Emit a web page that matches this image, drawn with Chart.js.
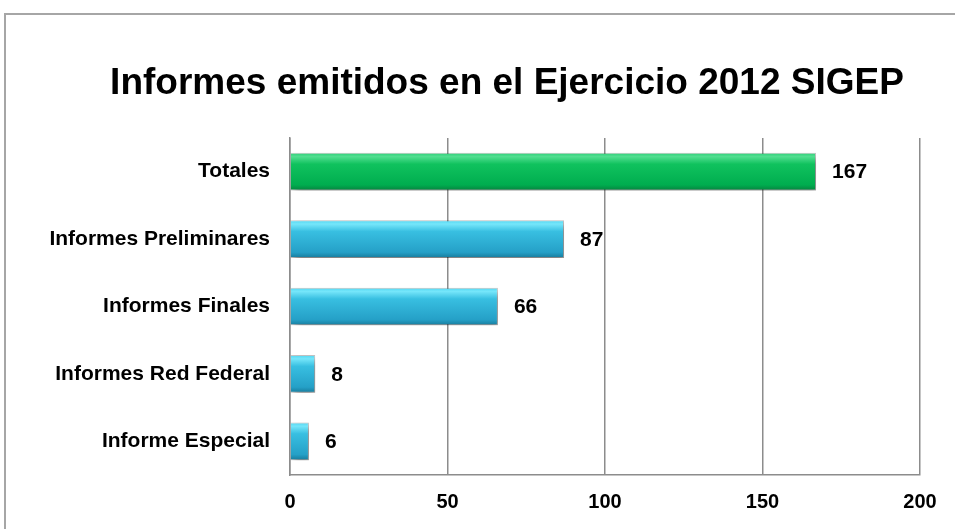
<!DOCTYPE html>
<html>
<head>
<meta charset="utf-8">
<script src="https://cdn.jsdelivr.net/npm/chart.js@4.4.1/dist/chart.umd.min.js"></script>
<style>
  html, body { margin: 0; padding: 0; background: #ffffff; }
  #wrap { position: relative; width: 955px; height: 529px; overflow: hidden; }
  #frame { position: absolute; left: 4px; top: 13px; width: 1000px; height: 1000px;
           border: 2px solid #a6a6a6; box-sizing: border-box; pointer-events: none; }
  canvas { position: absolute; left: 0; top: 0; }
</style>
</head>
<body>
<div id="wrap">
  <canvas id="c" width="955" height="529"></canvas>
  <div id="frame"></div>
</div>
<script>
const titleText = 'Informes emitidos en el Ejercicio 2012 SIGEP';
const categories = ['Totales', 'Informes Preliminares', 'Informes Finales', 'Informes Red Federal', 'Informe Especial'];
const values = [167, 87, 66, 8, 6];
const barKinds = ['green', 'blue', 'blue', 'blue', 'blue'];
const xTicks = [0, 50, 100, 150, 200];

const FONT = "'Liberation Sans', Arial, Helvetica, sans-serif";
const BAR_PCT = 0.56;

function barFill(ctx) {
  const chart = ctx.chart;
  const ys = chart.scales.y;
  const area = chart.chartArea;
  if (!ys || !area || ctx.dataIndex === undefined) return '#2fb3d6';
  const cy = ys.getPixelForValue(ctx.dataIndex);
  const h = (area.bottom - area.top) / categories.length * BAR_PCT;
  if (!isFinite(cy) || !isFinite(h)) return '#2fb3d6';
  const top = cy - h / 2, bot = cy + h / 2;
  const g = chart.ctx.createLinearGradient(0, top, 0, bot);
  if (barKinds[ctx.dataIndex] === 'green') {
    g.addColorStop(0, '#2ccf78');
    g.addColorStop(0.1, '#52de90');
    g.addColorStop(0.3, '#10c25e');
    g.addColorStop(0.85, '#00ad4f');
    g.addColorStop(1, '#06823e');
  } else {
    g.addColorStop(0, '#4fd6f2');
    g.addColorStop(0.1, '#76e6fa');
    g.addColorStop(0.3, '#38bfe1');
    g.addColorStop(0.85, '#25a0c7');
    g.addColorStop(1, '#177a9b');
  }
  return g;
}

const shadowPlugin = {
  id: 'shadow',
  beforeDatasetDraw(chart) {
    const c = chart.ctx;
    c.save();
    c.shadowColor = 'rgba(0,0,0,0.4)';
    c.shadowBlur = 7;
    c.shadowOffsetX = 3;
    c.shadowOffsetY = 4;
  },
  afterDatasetDraw(chart) {
    chart.ctx.restore();
  }
};

const labelPlugin = {
  id: 'valueLabels',
  afterDatasetsDraw(chart) {
    const c = chart.ctx;
    const meta = chart.getDatasetMeta(0);
    c.save();
    c.font = 'bold 21px ' + FONT;
    c.fillStyle = '#000000';
    c.textAlign = 'left';
    c.textBaseline = 'middle';
    meta.data.forEach((el, i) => {
      c.fillText(String(values[i]), el.x + 16, el.y + 1);
    });
    c.restore();
  }
};

const titlePlugin = {
  id: 'chartTitle',
  afterDraw(chart) {
    const c = chart.ctx;
    c.save();
    c.font = 'bold 37px ' + FONT;
    c.fillStyle = '#000000';
    c.textAlign = 'center';
    c.textBaseline = 'middle';
    c.fillText(titleText, 507, 84);
    c.restore();
  }
};

new Chart(document.getElementById('c'), {
  type: 'bar',
  data: {
    labels: categories,
    datasets: [{
      data: values,
      backgroundColor: barFill,
      borderColor: 'rgba(0,0,0,0.22)',
      borderWidth: 1,
      barPercentage: BAR_PCT,
      categoryPercentage: 1.0
    }]
  },
  options: {
    indexAxis: 'y',
    responsive: false,
    animation: false,
    devicePixelRatio: 1,
    layout: { padding: { left: 0, right: 35, top: 138, bottom: 0 } },
    plugins: {
      legend: { display: false },
      tooltip: { enabled: false },
      title: { display: false }
    },
    scales: {
      x: {
        min: 0, max: 200,
        afterBuildTicks(scale) { scale.ticks = xTicks.map(v => ({ value: v })); },
        afterFit(scale) { scale.height = 54; },
        grid: { color: '#8c8c8c', lineWidth: 1.5, drawTicks: false },
        border: { display: true, color: '#8c8c8c', width: 1.5 },
        ticks: { color: '#000000', padding: 15, font: { family: FONT, size: 20, weight: 'bold' } }
      },
      y: {
        afterFit(scale) { scale.width = 290; },
        grid: { display: false, drawTicks: false },
        border: { display: true, color: '#8c8c8c', width: 1.5 },
        ticks: { color: '#000000', padding: 20, font: { family: FONT, size: 21, weight: 'bold' } }
      }
    }
  },
  plugins: [shadowPlugin, labelPlugin, titlePlugin]
});
</script>
</body>
</html>
